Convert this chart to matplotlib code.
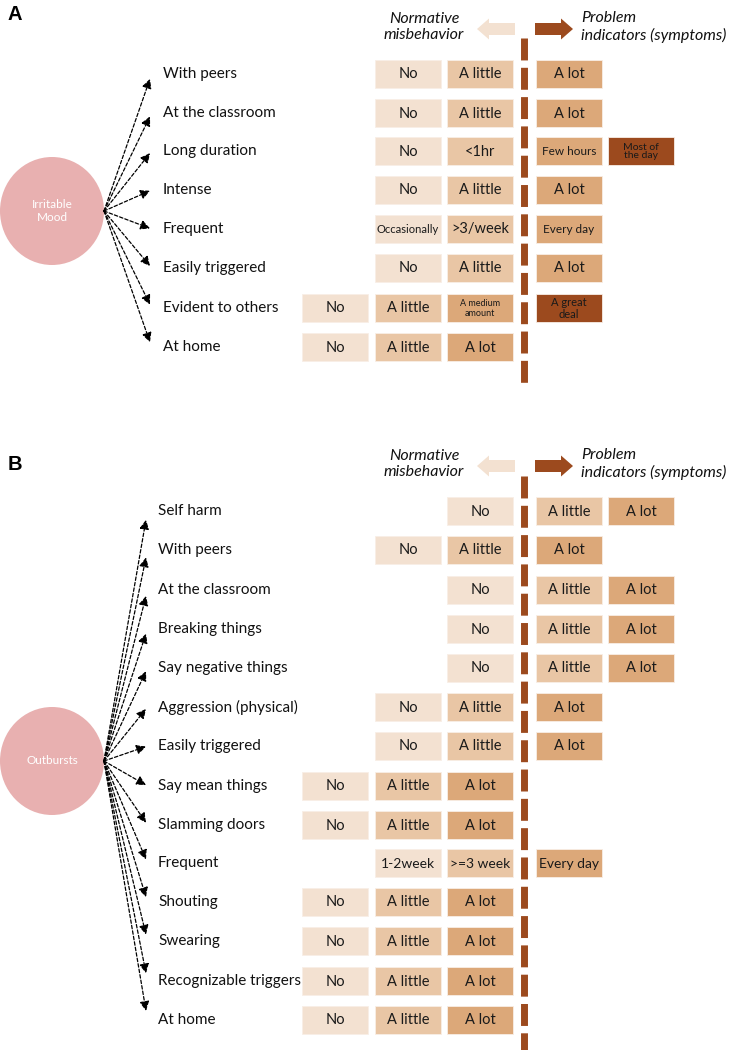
import matplotlib
matplotlib.use("Agg")
import matplotlib.pyplot as plt
from matplotlib.patches import Rectangle, Ellipse

plt.rcParams['font.family'] = ['Lato', 'DejaVu Sans']
plt.rcParams['lines.scale_dashes'] = False

# level colours: light -> dark
level_colors = ['#F3E1D1', '#E9C6A5', '#DCA879', '#9C4A1E']
line_color = '#9C4A1E'

# ---- panel A : irritable mood ----
a_hub = 'Irritable\nMood'
a_items = ['With peers', 'At the classroom', 'Long duration', 'Intense', 'Frequent',
           'Easily triggered', 'Evident to others', 'At home']
a_rows = [74, 113, 151, 190, 229, 268, 308, 347]
a_cells = [
    [(1, 'No', 0), (2, 'A little', 1), (3, 'A lot', 2)],
    [(1, 'No', 0), (2, 'A little', 1), (3, 'A lot', 2)],
    [(1, 'No', 0), (2, '<1hr', 1), (3, 'Few hours', 2), (4, 'Most of\nthe day', 3)],
    [(1, 'No', 0), (2, 'A little', 1), (3, 'A lot', 2)],
    [(1, 'Occasionally', 0), (2, '>3/week', 1), (3, 'Every day', 2)],
    [(1, 'No', 0), (2, 'A little', 1), (3, 'A lot', 2)],
    [(0, 'No', 0), (1, 'A little', 1), (2, 'A medium\namount', 2), (3, 'A great\ndeal', 3)],
    [(0, 'No', 0), (1, 'A little', 1), (2, 'A lot', 2)],
]
a_small = {'Occasionally': 8, 'Few hours': 8.5, 'Every day': 8.5, 'Most of\nthe day': 7.5,
           'A medium\namount': 6.5, 'A great\ndeal': 8, '>3/week': 10.5}

# ---- panel B : outbursts ----
b_hub = 'Outbursts'
b_items = ['Self harm', 'With peers', 'At the classroom', 'Breaking things',
           'Say negative things', 'Aggression (physical)', 'Easily triggered',
           'Say mean things', 'Slamming doors', 'Frequent', 'Shouting', 'Swearing',
           'Recognizable triggers', 'At home']
b_rows = [511, 550, 590, 629, 668, 707, 746, 786, 825, 863, 902, 941, 981, 1020]
b_cells = [
    [(2, 'No', 0), (3, 'A little', 1), (4, 'A lot', 2)],
    [(1, 'No', 0), (2, 'A little', 1), (3, 'A lot', 2)],
    [(2, 'No', 0), (3, 'A little', 1), (4, 'A lot', 2)],
    [(2, 'No', 0), (3, 'A little', 1), (4, 'A lot', 2)],
    [(2, 'No', 0), (3, 'A little', 1), (4, 'A lot', 2)],
    [(1, 'No', 0), (2, 'A little', 1), (3, 'A lot', 2)],
    [(1, 'No', 0), (2, 'A little', 1), (3, 'A lot', 2)],
    [(0, 'No', 0), (1, 'A little', 1), (2, 'A lot', 2)],
    [(0, 'No', 0), (1, 'A little', 1), (2, 'A lot', 2)],
    [(1, '1-2week', 0), (2, '>=3 week', 1), (3, 'Every day', 2)],
    [(0, 'No', 0), (1, 'A little', 1), (2, 'A lot', 2)],
    [(0, 'No', 0), (1, 'A little', 1), (2, 'A lot', 2)],
    [(0, 'No', 0), (1, 'A little', 1), (2, 'A lot', 2)],
    [(0, 'No', 0), (1, 'A little', 1), (2, 'A lot', 2)],
]
b_small = {'1-2week': 10, '>=3 week': 10, 'Every day': 10}

col_left = [302, 375, 447, 536, 608]
box_w, box_h = 66, 28
divider_x = 524

fig = plt.figure(figsize=(7.29, 10.5), dpi=100)
ax = fig.add_axes([0, 0, 1, 1])
ax.set_xlim(0, 729)
ax.set_ylim(1050, 0)
ax.axis('off')


def draw_panel(letter, letter_y, hub, hub_y, items, rows, cells, small,
               head_y, line_top, line_bottom, label_x, tip_x):
    ax.text(8, letter_y, letter, fontsize=14.5, fontweight='bold', va='center',
            ha='left', family=['Liberation Sans', 'DejaVu Sans'])
    # hub circle
    ax.add_patch(Ellipse((52, hub_y), 104, 108, color='#E8B0B0', lw=0))
    ax.text(52, hub_y, hub, color='white', fontsize=8.5, ha='center', va='center',
            linespacing=1.3)
    ox = 104
    for name, y in zip(items, rows):
        ty = y - 0.035 * (y - hub_y)
        ax.annotate('', xy=(tip_x, ty), xytext=(ox, hub_y),
                    arrowprops=dict(arrowstyle='-|>', linestyle=(0, (2.5, 1.5)),
                                    lw=0.9, color='black', mutation_scale=14,
                                    shrinkA=0, shrinkB=0))
        ax.text(label_x, y, name, fontsize=11, ha='left', va='center', color='#111111')
    for y, row in zip(rows, cells):
        for col, txt, lev in row:
            ax.add_patch(Rectangle((col_left[col], y - box_h / 2), box_w, box_h,
                                   facecolor=level_colors[lev], edgecolor='#F8EEE6', lw=0.6))
            ax.text(col_left[col] + box_w / 2, y + 0.5, txt, fontsize=small.get(txt, 10.5),
                    ha='center', va='center', color='#1A1A1A', linespacing=1.0)
    # divider
    ax.plot([divider_x, divider_x], [line_top, line_bottom], color=line_color, lw=5,
            linestyle=(0, (15.8, 5.3)), solid_capstyle='butt', dash_capstyle='butt')
    # header
    ax.text(424, head_y - 2, 'Normative\nmisbehavior', fontsize=11.5, style='italic',
            ha='center', va='center', linespacing=1.25, color='#111111')
    ax.text(581, head_y - 2, 'Problem\nindicators (symptoms)', fontsize=11.5, style='italic',
            ha='left', va='center', linespacing=1.25, color='#111111')
    ax.arrow(515, head_y, -38, 0, width=12, head_width=21, head_length=12,
             length_includes_head=True, color='#F3E1D1', lw=0)
    ax.arrow(535, head_y, 38, 0, width=12, head_width=21, head_length=12,
             length_includes_head=True, color='#9C4A1E', lw=0)


draw_panel('A', 14, a_hub, 211, a_items, a_rows, a_cells, a_small,
           29, 38, 386, 163, 150)
draw_panel('B', 465, b_hub, 761, b_items, b_rows, b_cells, b_small,
           466, 476, 1050, 158, 146)

fig.savefig('out.png', dpi=100)
